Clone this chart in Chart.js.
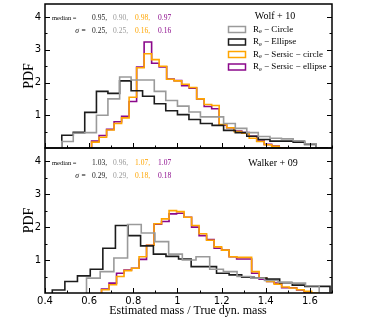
<!DOCTYPE html>
<html lang="en">
<head>
<meta charset="UTF-8">
<title>Estimated mass / True dyn. mass</title>
<script src="https://cdn.jsdelivr.net/npm/chart.js"></script>
<style>
  html, body { margin: 0; padding: 0; background: #fff; overflow: hidden; }
  .panel { position: absolute; left: 0; width: 369px; }
  #top { top: 0; height: 150px; }
  #bot { top: 146px; height: 180px; }
</style>
</head>
<body>
<div class="panel" id="top"><canvas id="chartTop"></canvas></div>
<div class="panel" id="bot"><canvas id="chartBot"></canvas></div>
<script>
// ---- Wolf+10 (top panel) ----
const wolfEdges = [0.476, 0.528, 0.580, 0.633, 0.685, 0.738, 0.790, 0.842, 0.895, 0.947, 1.000, 1.052,
  1.104, 1.157, 1.209, 1.262, 1.314, 1.366, 1.419, 1.471, 1.524, 1.576, 1.628, 1.681];
const wolfCircle  = [0.06, 0.2, 0.45, 0.47, 1.0, 1.5, 2.17, 2.08, 2.08, 1.73, 1.45, 1.28, 1.1, 0.95, 0.95, 0.75, 0.6, 0.47, 0.35, 0.3, 0.28, 0.22, 0.12];
const wolfEllipse = [0.16, 0.39, 0.48, 1.09, 1.73, 1.67, 2.05, 1.75, 1.58, 1.35, 1.14, 1.02, 0.87, 0.75, 0.69, 0.54, 0.47, 0.36, 0.26, 0.21, 0.21, 0.18, 0.11];
const wolfSersicEdges = [0.611, 0.645, 0.679, 0.713, 0.747, 0.781, 0.815, 0.849, 0.883, 0.917, 0.951, 0.985, 1.019,
  1.053, 1.087, 1.121, 1.155, 1.189, 1.223, 1.257, 1.291, 1.325, 1.359, 1.393, 1.427, 1.461, 1.495];
const wolfSersicCircle  = [0.06, 0.18, 0.33, 0.55, 0.75, 0.92, 1.55, 2.45, 2.88, 2.7, 2.5, 2.1, 2.05, 1.95, 1.85, 1.5, 1.33, 1.3, 0.72, 0.62, 0.5, 0.45, 0.3, 0.2, 0.1, 0.05];
const wolfSersicEllipse = [0.09, 0.21, 0.38, 0.57, 0.8, 0.97, 1.42, 2.47, 3.24, 2.59, 2.48, 2.11, 2.06, 1.9, 1.83, 1.5, 1.27, 1.2, 0.7, 0.62, 0.52, 0.47, 0.36, 0.21, 0.11, 0.06];
const wolfMedian = ['0.95,', '0.90,', '0.98,', '0.97'];
const wolfSigma  = ['0.25,', '0.25,', '0.16,', '0.16'];

// ---- Walker+09 (bottom panel) ----
const walkerEllipseEdges = [0.433, 0.490, 0.547, 0.605, 0.662, 0.719, 0.776, 0.833, 0.891, 0.948, 1.005, 1.062,
  1.119, 1.177, 1.234, 1.291, 1.348, 1.405, 1.463, 1.520, 1.577, 1.634, 1.691, 1.748];
const walkerEllipse = [0.09, 0.09, 0.35, 0.52, 0.72, 1.36, 2.05, 1.74, 1.43, 1.18, 1.11, 1.03, 0.8, 0.8, 0.6, 0.55, 0.48, 0.45, 0.42, 0.31, 0.24, 0.2, 0.2];
const walkerCircleEdges = [0.588, 0.650, 0.712, 0.774, 0.836, 0.898, 0.960, 1.022, 1.084, 1.146, 1.208, 1.270,
  1.332, 1.394, 1.456, 1.518, 1.580, 1.642, 1.704];
const walkerCircle = [0.24, 0.45, 0.65, 1.06, 2.08, 1.82, 1.56, 1.18, 1.0, 1.1, 0.72, 0.65, 0.5, 0.45, 0.38, 0.33, 0.3, 0.22];
const walkerSersicEdges = [0.656, 0.690, 0.724, 0.758, 0.792, 0.826, 0.860, 0.894, 0.928, 0.962, 0.996, 1.030, 1.064,
  1.098, 1.132, 1.166, 1.200, 1.234, 1.268, 1.302, 1.336, 1.370, 1.404, 1.438, 1.472, 1.506, 1.540, 1.574, 1.608, 1.642];
const walkerSersicCircle  = [0.06, 0.1, 0.25, 0.5, 0.68, 0.75, 1.1, 1.45, 2.1, 2.25, 2.5, 2.47, 2.3, 2.05, 1.8, 1.6, 1.4, 1.3, 1.1, 1.08, 1.08, 0.65, 0.45, 0.35, 0.27, 0.18, 0.15, 0.1, 0.05];
const walkerSersicEllipse = [0.09, 0.12, 0.3, 0.6, 0.7, 0.75, 1.02, 1.45, 2.09, 2.17, 2.4, 2.42, 2.3, 2.0, 1.74, 1.62, 1.36, 1.3, 1.1, 1.03, 1.03, 0.6, 0.42, 0.35, 0.3, 0.16, 0.16, 0.09];
const walkerMedian = ['1.03,', '0.96,', '1.07,', '1.07'];
const walkerSigma  = ['0.29,', '0.29,', '0.18,', '0.18'];

const seriesNames = ['Circle', 'Ellipse', 'Sersic \u2212 circle', 'Sersic \u2212 ellipse'];
const C_GRAY = '#9a9a9a', C_BLACK = '#1c1c1c', C_ORANGE = '#ffa500', C_PURPLE = '#8b088b';
const textColors = [C_BLACK, C_GRAY, C_ORANGE, C_PURPLE];
const SERIF = '"Liberation Serif", "DejaVu Serif", serif';

// histogram outline as step points
function steps(edges, vals) {
  const pts = [{ x: edges[0], y: 0 }];
  vals.forEach((v, i) => pts.push({ x: edges[i], y: v }));
  pts.push({ x: edges[vals.length], y: 0 });
  return pts;
}
function ds(edges, vals, color, w) {
  return { data: steps(edges, vals), borderColor: color, borderWidth: w, stepped: 'after',
           pointRadius: 0, fill: false, tension: 0 };
}

function drawRe(ctx, x, y, rest, size) {
  ctx.font = size + 'px ' + SERIF;
  ctx.fillText('R', x, y);
  let w = ctx.measureText('R').width;
  ctx.font = (size * 0.7) + 'px ' + SERIF;
  ctx.fillText('e', x + w, y + size * 0.22);
  w += ctx.measureText('e').width;
  ctx.font = size + 'px ' + SERIF;
  ctx.fillText(' \u2212 ' + rest, x + w, y);
}

function decor(cfg) {
  return {
    id: 'decor',
    afterDatasetsDraw(chart) {
      const { ctx, chartArea: a, scales: { x, y } } = chart;
      ctx.save();
      // inward ticks
      ctx.strokeStyle = '#000';
      ctx.lineWidth = 1;
      ctx.beginPath();
      for (let k = 4; k <= 17; k++) {
        const px = Math.round(x.getPixelForValue(k / 10)) + 0.5;
        const len = k % 2 === 0 ? 5 : 2.5;
        ctx.moveTo(px, a.bottom); ctx.lineTo(px, a.bottom - len);
      }
      for (let k = 1; k <= 8; k++) {
        const py = Math.round(y.getPixelForValue(k / 2)) + 0.5;
        const len = k % 2 === 0 ? 5 : 2.5;
        ctx.moveTo(a.left, py); ctx.lineTo(a.left + len, py);
        ctx.moveTo(a.right, py); ctx.lineTo(a.right - len, py);
      }
      ctx.stroke();
      // frame
      ctx.lineWidth = 1.5;
      ctx.strokeRect(a.left, a.top, a.right - a.left, a.bottom - a.top);

      // PDF label
      ctx.fillStyle = '#000';
      ctx.font = '14px ' + SERIF;
      ctx.textAlign = 'center';
      ctx.textBaseline = 'middle';
      ctx.save();
      ctx.translate(29, (a.top + a.bottom) / 2);
      ctx.rotate(-Math.PI / 2);
      ctx.fillText('PDF', 0, 0);
      ctx.restore();

      // median / sigma text
      ctx.textAlign = 'left';
      ctx.textBaseline = 'middle';
      ctx.font = '6.5px ' + SERIF;
      ctx.fillText('median =', 52, cfg.rowY[0]);
      ctx.textAlign = 'right';
      ctx.font = 'italic 7.5px ' + SERIF;
      ctx.fillText('\u03c3 =', 86, cfg.rowY[1]);
      ctx.textAlign = 'left';
      ctx.font = '7.5px ' + SERIF;
      const nx = [92, 113, 135, 158];
      cfg.median.forEach((t, i) => { ctx.fillStyle = textColors[i]; ctx.fillText(t, nx[i], cfg.rowY[0]); });
      cfg.sigma.forEach((t, i) => { ctx.fillStyle = textColors[i]; ctx.fillText(t, nx[i], cfg.rowY[1]); });

      // panel title
      ctx.fillStyle = '#000';
      ctx.textAlign = 'center';
      ctx.font = '10px ' + SERIF;
      ctx.fillText(cfg.title, cfg.titleX, cfg.titleY);

      if (cfg.legend) {
        const cols = [C_GRAY, C_BLACK, C_ORANGE, C_PURPLE];
        ctx.textAlign = 'left';
        ctx.lineWidth = 1.5;
        cols.forEach((c, i) => {
          const cy = 29.5 + i * 12.5;
          ctx.strokeStyle = c;
          ctx.strokeRect(228.5, cy - 3, 17, 6);
          ctx.fillStyle = '#000';
          drawRe(ctx, 253, cy, seriesNames[i], 9);
        });
      }
      if (cfg.xTitle) {
        ctx.fillStyle = '#000';
        ctx.textAlign = 'center';
        ctx.font = '12px ' + SERIF;
        ctx.fillText('Estimated mass / True dyn. mass', 188, chart.height - 15);
      }
      ctx.restore();
    }
  };
}

function makeChart(id, datasets, showX, pad, cfg) {
  return new Chart(document.getElementById(id), {
    type: 'line',
    data: { datasets },
    options: {
      responsive: true,
      maintainAspectRatio: false,
      animation: false,
      layout: { padding: pad },
      plugins: { legend: { display: false }, tooltip: { enabled: false } },
      scales: {
        x: {
          type: 'linear', min: 0.4, max: 1.7,
          display: showX,
          grid: { display: false, drawTicks: false },
          border: { display: false },
          ticks: {
            stepSize: 0.2, includeBounds: false, padding: 2,
            color: '#000', font: { family: 'DejaVu Sans', size: 10 },
            maxRotation: 0,
            callback: v => Math.abs(v - 1) < 1e-6 ? '1' : v.toFixed(1)
          },
          afterFit: s => { s.height = showX ? 33 : 0; s.paddingLeft = 0; s.paddingRight = 0; }
        },
        y: {
          min: 0, max: 4.4,
          grid: { display: false, drawTicks: false },
          border: { display: false },
          ticks: {
            stepSize: 1, includeBounds: false, padding: 4,
            color: '#000', font: { family: 'DejaVu Sans', size: 10 },
            callback: v => v === 0 ? '' : String(v)
          },
          afterFit: s => { s.width = 45; s.paddingTop = 0; s.paddingBottom = 0; }
        }
      }
    },
    plugins: [decor(cfg)]
  });
}

makeChart('chartTop', [
  ds(wolfEdges, wolfCircle, C_GRAY, 1.6),
  ds(wolfEdges, wolfEllipse, C_BLACK, 1.6),
  ds(wolfSersicEdges, wolfSersicCircle, C_ORANGE, 1.6),
  ds(wolfSersicEdges, wolfSersicEllipse, C_PURPLE, 1.6)
], false, { top: 4, right: 37, bottom: 2, left: 0 },
  { median: wolfMedian, sigma: wolfSigma, rowY: [18.5, 31.5], title: 'Wolf + 10', titleX: 275, titleY: 16, legend: true });

makeChart('chartBot', [
  ds(walkerCircleEdges, walkerCircle, C_GRAY, 1.6),
  ds(walkerEllipseEdges, walkerEllipse, C_BLACK, 1.6),
  ds(walkerSersicEdges, walkerSersicCircle, C_ORANGE, 1.6),
  ds(walkerSersicEdges, walkerSersicEllipse, C_PURPLE, 1.6)
], true, { top: 2, right: 37, bottom: 0, left: 0 },
  { median: walkerMedian, sigma: walkerSigma, rowY: [17.5, 30], title: 'Walker + 09', titleX: 273, titleY: 17, xTitle: true });
</script>
</body>
</html>
